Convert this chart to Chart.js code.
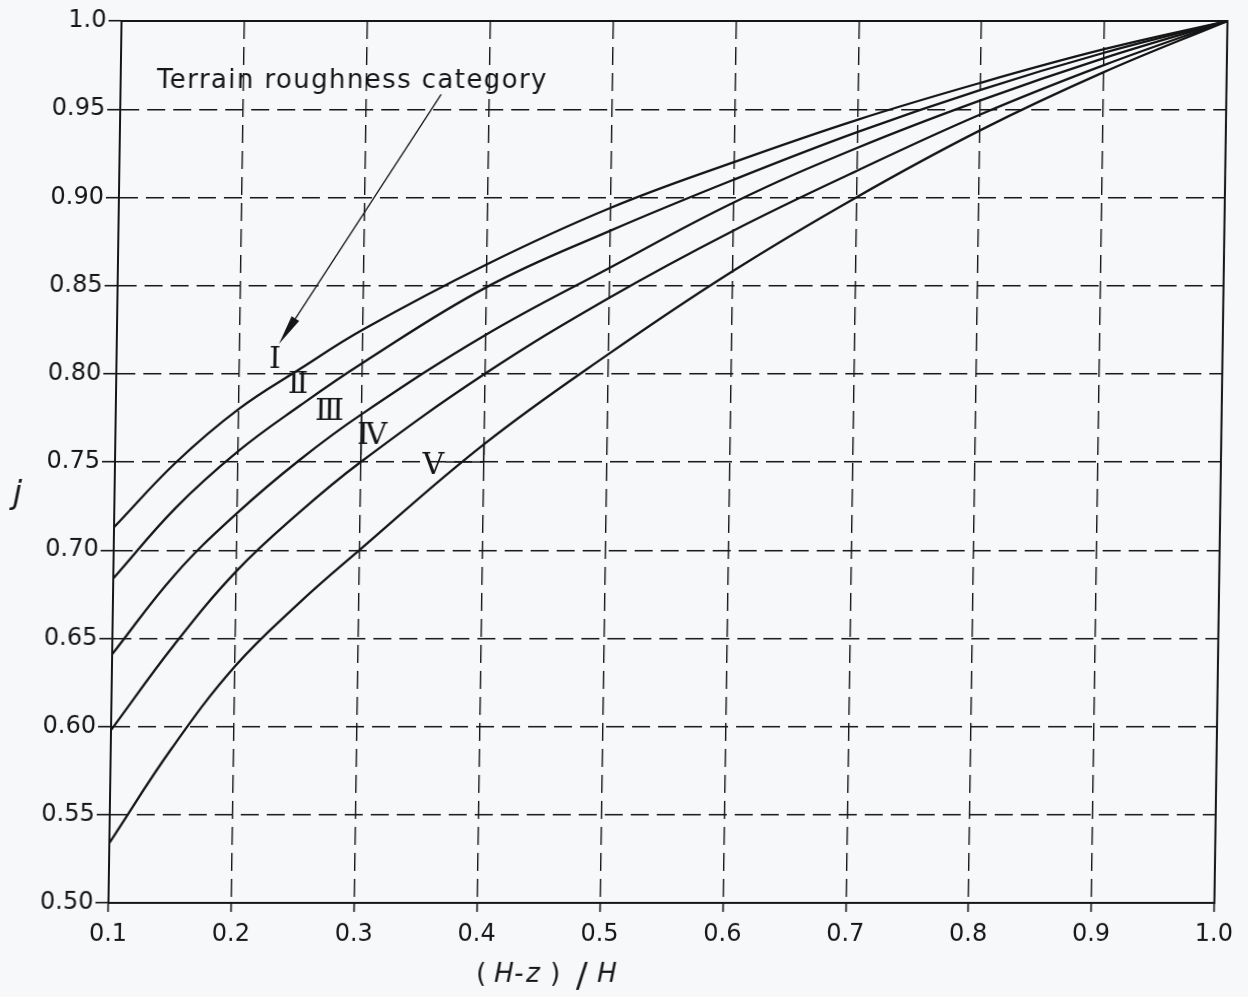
<!DOCTYPE html>
<html>
<head>
<meta charset="utf-8">
<script src="https://cdn.jsdelivr.net/npm/chart.js@4.4.1/dist/chart.umd.min.js"></script>
<style>
  html, body { margin: 0; padding: 0; background: #f7f8fa; }
  #wrap { width: 1248px; height: 997px; overflow: hidden; }
  /* the scanned sheet leans a little: verticals drift right towards the top */
  #chart { display: block; transform: skewX(-0.85deg); transform-origin: 0 462px; }
</style>
</head>
<body>
<div id="wrap"><canvas id="chart" width="1248" height="997"></canvas></div>
<script>
// --- DATA ---
const xValues = [0.1, 0.15, 0.2, 0.25, 0.3, 0.4, 0.5, 0.6, 0.7, 0.8, 0.9, 1.0];
const catI   = [0.713, 0.750, 0.780, 0.803, 0.825, 0.862, 0.894, 0.920, 0.944, 0.965, 0.984, 1.0];
const catII  = [0.684, 0.724, 0.756, 0.782, 0.806, 0.849, 0.881, 0.910, 0.937, 0.961, 0.982, 1.0];
const catIII = [0.641, 0.686, 0.721, 0.751, 0.777, 0.822, 0.860, 0.897, 0.928, 0.955, 0.979, 1.0];
const catIV  = [0.598, 0.646, 0.688, 0.721, 0.750, 0.800, 0.843, 0.881, 0.915, 0.947, 0.975, 1.0];
const catV   = [0.534, 0.588, 0.634, 0.669, 0.700, 0.760, 0.811, 0.858, 0.900, 0.938, 0.971, 1.0];
const categoryNames = ['Ⅰ', 'Ⅱ', 'Ⅲ', 'Ⅳ', 'Ⅴ'];

const xTicks = [0.1, 0.2, 0.3, 0.4, 0.5, 0.6, 0.7, 0.8, 0.9, 1.0];
const xTickLabels = ['0.1', '0.2', '0.3', '0.4', '0.5', '0.6', '0.7', '0.8', '0.9', '1.0'];
const yTicks = [0.5, 0.55, 0.6, 0.65, 0.7, 0.75, 0.8, 0.85, 0.9, 0.95, 1.0];
const yTickLabels = ['0.50', '0.55', '0.60', '0.65', '0.70', '0.75', '0.80', '0.85', '0.90', '0.95', '1.0'];

const INK = '#161616';
const FONT = '"DejaVu Sans", sans-serif';

// where each category numeral sits (data coords)
const numeralSpots = [[0.229, 0.8076], [0.248, 0.7936], [0.274, 0.778], [0.309, 0.7645], [0.359, 0.7477]];

function drawArrow(ctx, x0, y0, x1, y1) {
    const ang = Math.atan2(y1 - y0, x1 - x0);
    const len = 30, half = 4.5;
    const c = Math.cos(ang), s = Math.sin(ang);
    ctx.lineWidth = 1.3;
    ctx.beginPath();
    ctx.moveTo(x0, y0);
    ctx.lineTo(x1 - c * len, y1 - s * len);
    ctx.stroke();
    ctx.beginPath();
    ctx.moveTo(x1, y1);
    ctx.lineTo(x1 - c * len + s * half, y1 - s * len - c * half);
    ctx.lineTo(x1 - c * len - s * half, y1 - s * len + c * half);
    ctx.closePath();
    ctx.fill();
}

const annotations = {
    id: 'annotations',
    afterDraw(chart) {
        const { ctx, chartArea: a, scales: { x, y } } = chart;
        const px = v => x.getPixelForValue(v);
        const py = v => y.getPixelForValue(v);
        ctx.save();
        ctx.strokeStyle = INK;
        ctx.fillStyle = INK;

        // frame round the plot
        ctx.lineWidth = 2;
        ctx.strokeRect(a.left, a.top, a.right - a.left, a.bottom - a.top);

        // caption with its arrow
        ctx.font = '26px ' + FONT;
        ctx.textAlign = 'left';
        ctx.textBaseline = 'alphabetic';
        ctx.letterSpacing = '1.4px';
        ctx.fillText('Terrain roughness category', px(0.1295), py(0.9621));
        ctx.letterSpacing = '0px';
        drawArrow(ctx, px(0.361), py(0.9584), px(0.232), py(0.8169));

        // numerals on the curves
        ctx.font = '30px "DejaVu Serif", serif';
        ctx.textAlign = 'center';
        ctx.textBaseline = 'middle';
        numeralSpots.forEach((p, i) => ctx.fillText(categoryNames[i], px(p[0]), py(p[1])));

        // leaders for IV and V
        ctx.lineWidth = 1.6;
        ctx.beginPath();
        ctx.moveTo(px(0.3), py(0.777));
        ctx.lineTo(px(0.3), py(0.75));
        ctx.moveTo(px(0.369), py(0.75));
        ctx.lineTo(px(0.4), py(0.75));
        ctx.lineTo(px(0.4), py(0.761));
        ctx.stroke();

        // x axis title: ( H-z ) / H, pieces placed from the 0.4 tick
        const x0 = px(0.4);
        const parts = [
            ['(', '26px ' + FONT, 0, 0],
            ['H', 'italic 26px ' + FONT, 18, 0],
            ['-', 'italic 26px ' + FONT, 38, 0],
            ['z', 'italic 26px ' + FONT, 50, 0],
            [')', '26px ' + FONT, 74, 0],
            ['/', '34px ' + FONT, 100, 5],
            ['H', 'italic 26px ' + FONT, 121, 0]
        ];
        ctx.textAlign = 'left';
        ctx.textBaseline = 'alphabetic';
        parts.forEach(p => {
            ctx.font = p[1];
            ctx.fillText(p[0], x0 + p[2], 982 + p[3]);
        });

        // y axis title
        ctx.font = 'italic 32px ' + FONT;
        ctx.textAlign = 'center';
        ctx.fillText('j', 18, 503);

        ctx.restore();
    }
};

const series = [catI, catII, catIII, catIV, catV];

new Chart(document.getElementById('chart'), {
    type: 'line',
    data: {
        datasets: series.map((vals, k) => ({
            label: categoryNames[k],
            data: xValues.map((xv, i) => ({ x: xv, y: vals[i] })),
            borderColor: INK,
            borderWidth: 2.3,
            pointRadius: 0,
            tension: 0.4,
            fill: false
        }))
    },
    options: {
        responsive: false,
        animation: false,
        devicePixelRatio: 1,
        layout: { padding: { left: 0, right: 27, top: 21, bottom: 0 } },
        plugins: { legend: { display: false }, tooltip: { enabled: false } },
        scales: {
            x: {
                type: 'linear', min: 0.1, max: 1.0,
                afterBuildTicks: s => { s.ticks = xTicks.map(v => ({ value: v })); },
                afterFit: s => { s.height = 94; },
                ticks: {
                    callback: (v, i) => xTickLabels[i],
                    color: INK, font: { family: 'DejaVu Sans', size: 24 },
                    padding: 8, maxRotation: 0, autoSkip: false
                },
                grid: { color: INK, lineWidth: 1.4, tickLength: 9, tickColor: INK, tickWidth: 1.6 },
                border: { display: true, color: INK, width: 2, dash: [18, 8] }
            },
            y: {
                type: 'linear', min: 0.5, max: 1.0,
                afterBuildTicks: s => { s.ticks = yTicks.map(v => ({ value: v })); },
                afterFit: s => { s.width = 115; },
                ticks: {
                    callback: (v, i) => yTickLabels[i],
                    color: INK, font: { family: 'DejaVu Sans', size: 24 },
                    padding: 2, autoSkip: false
                },
                grid: { color: INK, lineWidth: 1.4, tickLength: 13, tickColor: INK, tickWidth: 1.6 },
                border: { display: true, color: INK, width: 2, dash: [18, 8] }
            }
        }
    },
    plugins: [annotations]
});
</script>
</body>
</html>
